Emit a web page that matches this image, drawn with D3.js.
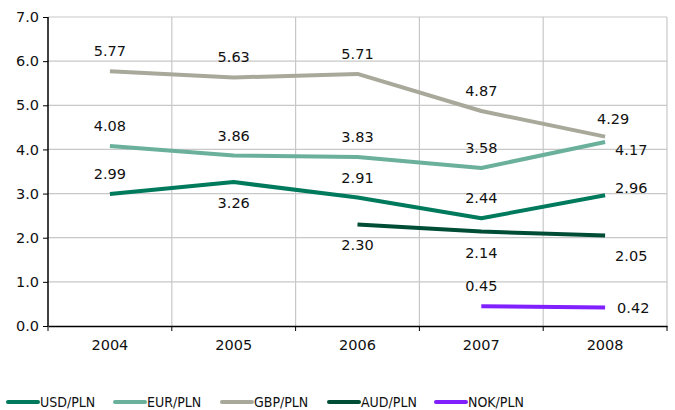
<!DOCTYPE html>
<html>
<head>
<meta charset="utf-8">
<script src="https://cdnjs.cloudflare.com/ajax/libs/d3/7.8.5/d3.min.js"></script>
<style>
  body { margin: 0; background: #fff; }
  svg text { font-family: "DejaVu Sans", Verdana, sans-serif; fill: #111; }
</style>
</head>
<body>
<svg id="chart" width="675" height="410"></svg>
<script>
// chart data
const years = ['2004', '2005', '2006', '2007', '2008'];
const seriesNames = ['USD/PLN', 'EUR/PLN', 'GBP/PLN', 'AUD/PLN', 'NOK/PLN'];
const usd = [2.99, 3.26, 2.91, 2.44, 2.96];
const eur = [4.08, 3.86, 3.83, 3.58, 4.17];
const gbp = [5.77, 5.63, 5.71, 4.87, 4.29];
const aud = [null, null, 2.30, 2.14, 2.05];
const nok = [null, null, null, 0.45, 0.42];
const yTicks = [0, 1, 2, 3, 4, 5, 6, 7];
// where each value label sits: a = above, b = below, r = right, ru / rd / rb = right and up / down / further down, ar = above, a bit right
const usdLab = ['a', 'b', 'a', 'a', 'ru'];
const eurLab = ['a', 'a', 'a', 'a', 'rd'];
const gbpLab = ['a', 'a', 'a', 'a', 'ar'];
const audLab = [null, null, 'b', 'b', 'rb'];
const nokLab = [null, null, null, 'a', 'r'];

const colors = ['#007a5c', '#6bb09b', '#a8a99b', '#004d36', '#8020ff'];

let graphicopt = {
    margin: {top: 17, right: 8, bottom: 84, left: 48},
    width: 675,
    height: 410
};
let widthG = graphicopt.width - graphicopt.margin.left - graphicopt.margin.right;
let heightG = graphicopt.height - graphicopt.margin.top - graphicopt.margin.bottom;

let svg = d3.select('#chart');
let g = svg.append('g')
    .attr('transform', 'translate(' + graphicopt.margin.left + ',' + graphicopt.margin.top + ')');

let x = d3.scaleBand().domain(years).range([0, widthG]);
let y = d3.scaleLinear().domain([0, 7]).range([heightG, 0]);

// grid
g.append('g').selectAll('line.h').data(yTicks.slice(1)).enter()
    .append('line')
    .attr('x1', 0).attr('x2', widthG)
    .attr('y1', d => y(d)).attr('y2', d => y(d))
    .style('stroke', '#c8c8c8').style('stroke-width', 1.2);
g.append('g').selectAll('line.v').data(years.slice(1).concat(['end'])).enter()
    .append('line')
    .attr('x1', (d, i) => i < years.length - 1 ? x(d) : widthG)
    .attr('x2', (d, i) => i < years.length - 1 ? x(d) : widthG)
    .attr('y1', 0).attr('y2', heightG)
    .style('stroke', '#c8c8c8').style('stroke-width', 1.2);

// axes
let yAxis = g.append('g')
    .call(d3.axisLeft(y).tickValues(yTicks).tickFormat(d3.format('.1f')).tickSize(5).tickPadding(4));
let xAxis = g.append('g')
    .attr('transform', 'translate(0,' + heightG + ')')
    .call(d3.axisBottom(x).tickSize(0).tickPadding(14));
xAxis.selectAll('.tick').append('line')
    .attr('x1', -x.bandwidth() / 2).attr('x2', -x.bandwidth() / 2)
    .attr('y1', 0).attr('y2', 5).attr('stroke', '#000');
xAxis.append('line')
    .attr('x1', widthG).attr('x2', widthG).attr('y1', 0).attr('y2', 5).attr('stroke', '#000');
[yAxis, xAxis].forEach(a => {
    a.selectAll('text').style('font-size', '14.5px').style('font-family', '"DejaVu Sans", Verdana, sans-serif').attr('fill', '#111');
    a.select('.domain').attr('stroke', '#000').attr('stroke-width', 1.5);
    a.selectAll('.tick line').attr('stroke', '#000');
});
yAxis.select('.domain').attr('d', 'M0,0V' + heightG);

// series
let series = [usd, eur, gbp, aud, nok].map((vals, i) => ({
    name: seriesNames[i],
    color: colors[i],
    labs: [usdLab, eurLab, gbpLab, audLab, nokLab][i],
    pts: vals.map((v, j) => ({year: years[j], v: v, j: j})).filter(p => p.v !== null)
}));

let line = d3.line()
    .x(d => x(d.year) + x.bandwidth() / 2)
    .y(d => y(d.v));

let drawOrder = [2, 1, 0, 3, 4];
drawOrder.forEach(i => {
    let s = series[i];
    g.append('path')
        .datum(s.pts)
        .attr('d', line)
        .style('fill', 'none')
        .style('stroke', s.color)
        .style('stroke-width', 4)
        .style('stroke-linejoin', 'round');
});

function labelAttrs(p, mode) {
    let cx = x(p.year) + x.bandwidth() / 2, cy = y(p.v);
    switch (mode) {
        case 'a': return {x: cx, y: cy - 15, anchor: 'middle'};
        case 'ar': return {x: cx + 8, y: cy - 13, anchor: 'middle'};
        case 'b': return {x: cx, y: cy + 26, anchor: 'middle'};
        case 'r': return {x: cx + 12, y: cy + 6, anchor: 'start'};
        case 'ru': return {x: cx + 10, y: cy - 2, anchor: 'start'};
        case 'rd': return {x: cx + 10, y: cy + 13, anchor: 'start'};
        case 'rb': return {x: cx + 10, y: cy + 25, anchor: 'start'};
    }
}

series.forEach(s => {
    s.pts.forEach(p => {
        let a = labelAttrs(p, s.labs[p.j]);
        g.append('text')
            .attr('x', a.x).attr('y', a.y)
            .attr('text-anchor', a.anchor)
            .style('font-size', '14.5px')
            .text(d3.format('.2f')(p.v));
    });
});

// legend
let legend = svg.append('g').attr('transform', 'translate(8,407)');
let legItem = legend.selectAll('g').data(series).enter()
    .append('g')
    .attr('transform', (d, i) => 'translate(' + (i * 107) + ',0)');
legItem.append('line')
    .attr('x1', 0).attr('x2', 30).attr('y1', -5).attr('y2', -5)
    .style('stroke', d => d.color).style('stroke-width', 4).style('stroke-linecap', 'round');
legItem.append('text')
    .attr('x', 32).attr('y', 0)
    .style('font-family', '"DejaVu Sans Condensed", "DejaVu Sans", sans-serif')
    .style('font-size', '14px')
    .text(d => d.name);
</script>
</body>
</html>
